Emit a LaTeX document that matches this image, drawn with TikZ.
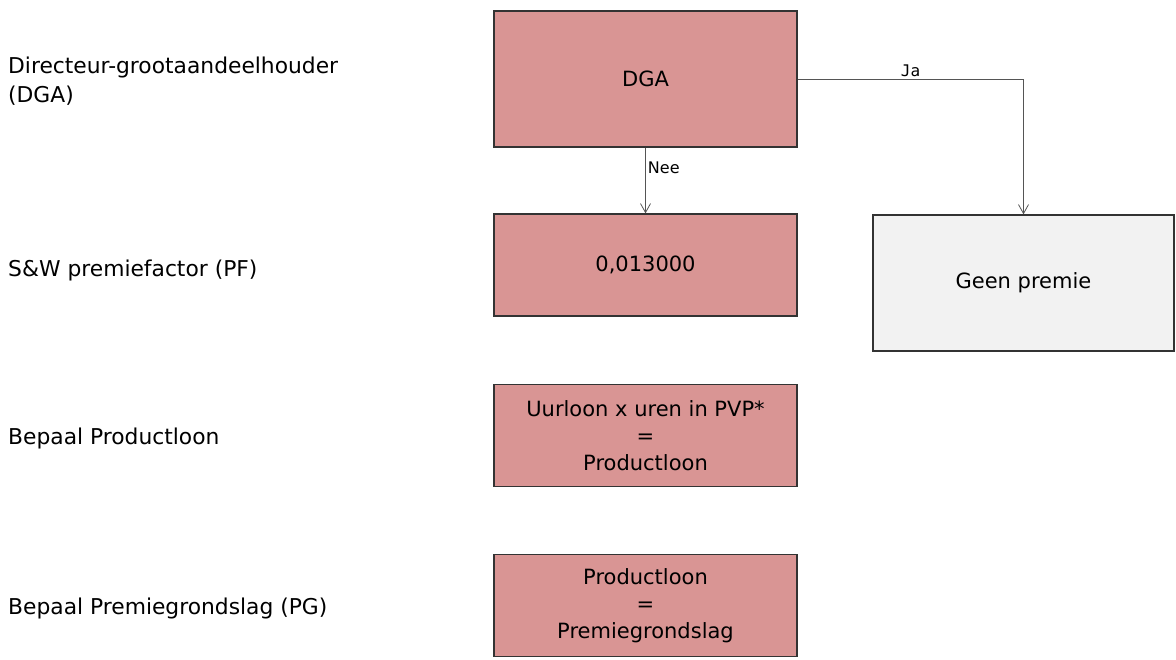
\documentclass[tikz,border=0pt]{standalone}
\usepackage{fontspec}
\setmainfont{DejaVu Sans}
\newfontfamily\monofont{DejaVu Sans Mono}
\usetikzlibrary{arrows.meta}
\definecolor{boxpink}{HTML}{D99594}
\definecolor{boxgray}{HTML}{F2F2F2}
\definecolor{boxline}{HTML}{333333}
\definecolor{arrowgray}{HTML}{555555}
\begin{document}
\begin{tikzpicture}[x=1pt,y=-1pt,
  pinkbox/.style={draw=boxline,line width=1.2pt,fill=boxpink,inner sep=0pt,
    minimum width=303pt,align=center,font=\fontsize{21}{27}\selectfont},
  graybox/.style={pinkbox,fill=boxgray,minimum width=301pt},
  sidelabel/.style={anchor=west,align=left,inner sep=0pt,font=\fontsize{21.8}{29}\selectfont},
  conn/.style={draw=arrowgray,line width=0.9pt,-{Straight Barb[length=9pt,width=10pt,line width=0.8pt]}},
  connlabel/.style={font=\fontsize{16}{18}\selectfont,inner sep=2pt}
]
\useasboundingbox (0,0) rectangle (1176,660);
\node[pinkbox,minimum height=136pt] (dga) at (645.5,79) {DGA};
\node[pinkbox,minimum height=102pt] (pf) at (645.5,265) {0,013000};
\node[graybox,minimum height=136pt] (geen) at (1023.5,283) {Geen premie};
\node[pinkbox,minimum height=102pt] (pl) at (645.5,435.5) {Uurloon x uren in PVP*\\=\\Productloon};
\node[pinkbox,minimum height=102pt] (pg) at (645.5,605.5) {Productloon\\=\\Premiegrondslag};

\node[sidelabel] (l1) at (8,81.5) {Directeur-grootaandeelhouder\\(DGA)};
\node[sidelabel] (l2) at (8,270) {S\&W premiefactor (PF)};
\node[sidelabel] (l3) at (8,438) {Bepaal Productloon};
\node[sidelabel] (l4) at (8,608) {Bepaal Premiegrondslag (PG)};

\draw[conn] (dga.south) -- node[connlabel,pos=0.3,right] (nee) {Nee} (pf.north);
\draw[conn] (dga.east) -| node[connlabel,pos=0.25,above,font=\monofont\fontsize{16}{18}\selectfont] (ja) {Ja} (geen.north);
\end{tikzpicture}
\end{document}
